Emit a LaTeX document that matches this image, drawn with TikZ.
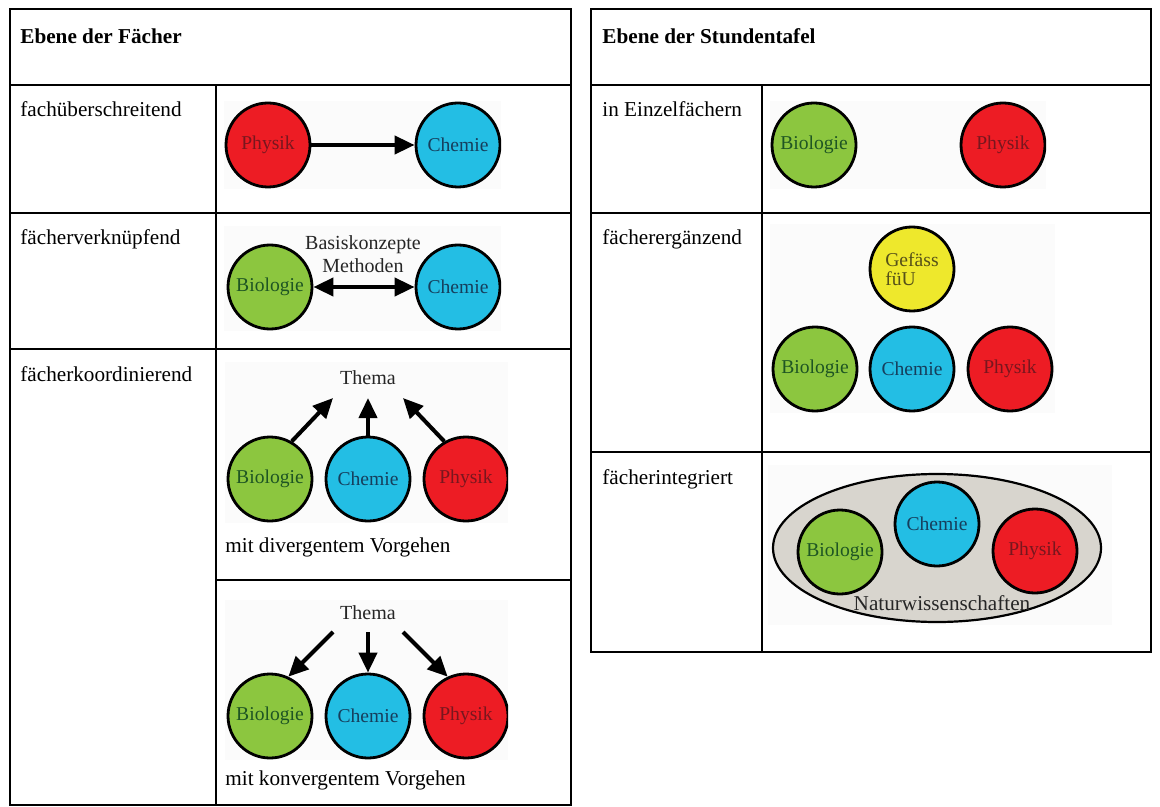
\documentclass[tikz,border=0pt]{standalone}
\usepackage{fontspec}
\setmainfont{Liberation Serif}
\usetikzlibrary{positioning,arrows.meta,shapes.geometric}
\definecolor{rot}{RGB}{237,28,36}
\definecolor{rottext}{RGB}{120,22,30}
\definecolor{blau}{RGB}{35,190,228}
\definecolor{blautext}{RGB}{22,62,92}
\definecolor{gruen}{RGB}{140,198,63}
\definecolor{gruentext}{RGB}{30,85,35}
\definecolor{gelb}{RGB}{238,232,44}
\definecolor{gelbtext}{RGB}{85,80,25}
\definecolor{grau}{RGB}{216,213,206}
\begin{document}
\begin{tikzpicture}[x=0.5pt, y=-0.5pt, node distance=49pt, auto,
    rahmen/.style={line width=1.25pt},
    zelle/.style={anchor=base west, inner sep=0pt, font=\fontsize{10.6}{12.7}\selectfont},
    kopf/.style={zelle, font=\fontsize{10.6}{12.7}\selectfont\bfseries},
    beschr/.style={inner sep=0pt, align=center, text=black!85, font=\fontsize{10}{11.5}\selectfont},
    bild/.style={fill=black!1.5},
    kreis/.style={draw, circle, line width=1.4pt, minimum size=42pt, inner sep=0pt, font=\fontsize{9.8}{11}\selectfont},
    phys/.style={kreis, fill=rot, text=rottext},
    chem/.style={kreis, fill=blau, text=blautext},
    bio/.style={kreis, fill=gruen, text=gruentext},
    pfeil/.style={line width=2pt, -{Triangle[length=10pt, width=9pt]}},
    dpfeil/.style={line width=2pt, {Triangle[length=10pt, width=9pt]}-{Triangle[length=10pt, width=9pt]}}]
    \fill[white] (0,0) rectangle (1160,807);
    \useasboundingbox (0,0) rectangle (1160,807);

    % Ebene der Faecher
    \draw[rahmen] (10,9) rectangle (571,805);
    \draw[rahmen] (10,85) -- (571,85);
    \draw[rahmen] (10,213) -- (571,213);
    \draw[rahmen] (10,349) -- (571,349);
    \draw[rahmen] (216,580) -- (571,580);
    \draw[rahmen] (216,85) -- (216,805);
    \node[kopf] (kl) at (20,44) {Ebene der Fächer};
    \node[zelle] (l1) at (20,117) {fachüberschreitend};
    \node[zelle] (l2) at (20,245) {fächerverknüpfend};
    \node[zelle] (l3) at (20,381) {fächerkoordinierend};

    \begin{scope}
        \clip (224,101) rectangle (501,189);
        \fill[bild] (224,101) rectangle (501,189);
        \node[phys] (p1) at (268,145) {Physik};
        \node[chem, right of=p1, node distance=95pt] (c1) {Chemie};
        \draw[pfeil] (p1) -- (c1);
    \end{scope}

    \begin{scope}
        \clip (224,226) rectangle (501,331);
        \fill[bild] (224,226) rectangle (501,331);
        \node[bio] (b2) at (270,287) {Biologie};
        \node[chem, right of=b2, node distance=94pt] (c2) {Chemie};
        \draw[dpfeil] (b2) -- (c2);
        \node[beschr] (k2) at (363,254) {Basiskonzepte\\Methoden};
    \end{scope}

    % divergent: arrows towards the topic
    \begin{scope}
        \clip (225,362) rectangle (508,523);
        \fill[bild] (225,362) rectangle (508,523);
        \node[beschr] (t3) at (368,378) {Thema};
        \node[bio] (b3) at (270,479) {Biologie};
        \node[chem, right of=b3] (c3) {Chemie};
        \node[phys, right of=c3] (p3) {Physik};
        \coordinate (t3a) at (333,398);
        \coordinate (t3b) at (368,398);
        \coordinate (t3c) at (403,398);
        \draw[pfeil] (b3.60) -- (t3a);
        \draw[pfeil] (c3) -- (t3b);
        \draw[pfeil] (p3.120) -- (t3c);
    \end{scope}
    \node[zelle] (v3) at (225,552) {mit divergentem Vorgehen};

    % konvergent: arrows from the topic
    \begin{scope}
        \clip (225,600) rectangle (508,760);
        \fill[bild] (225,600) rectangle (508,760);
        \node[beschr] (t4) at (368,613) {Thema};
        \node[bio] (b4) at (270,716) {Biologie};
        \node[chem, right of=b4] (c4) {Chemie};
        \node[phys, right of=c4] (p4) {Physik};
        \coordinate (t4a) at (333,632);
        \coordinate (t4b) at (368,632);
        \coordinate (t4c) at (403,632);
        \draw[pfeil] (t4a) -- (b4.65);
        \draw[pfeil] (t4b) -- (c4);
        \draw[pfeil] (t4c) -- (p4.115);
    \end{scope}
    \node[zelle] (v4) at (225,785) {mit konvergentem Vorgehen};

    % Ebene der Stundentafel
    \draw[rahmen] (591,9) rectangle (1151,652);
    \draw[rahmen] (591,85) -- (1151,85);
    \draw[rahmen] (591,213) -- (1151,213);
    \draw[rahmen] (591,452) -- (1151,452);
    \draw[rahmen] (762,85) -- (762,652);
    \node[kopf] (kr) at (602,44) {Ebene der Stundentafel};
    \node[zelle] (r1) at (602,117) {in Einzelfächern};
    \node[zelle] (r2) at (602,245) {fächerergänzend};
    \node[zelle] (r3) at (602,484) {fächerintegriert};

    \begin{scope}
        \clip (770,101) rectangle (1046,189);
        \fill[bild] (770,101) rectangle (1046,189);
        \node[bio] (b5) at (814,145) {Biologie};
        \node[phys, right of=b5, node distance=94.5pt] (p5) {Physik};
    \end{scope}

    \begin{scope}
        \clip (770,224) rectangle (1055,413);
        \fill[bild] (770,224) rectangle (1055,413);
        \node[bio] (b6) at (815,369) {Biologie};
        \node[chem, right of=b6, node distance=48.5pt] (c6) {Chemie};
        \node[phys, right of=c6] (p6) {Physik};
        \node[kreis, fill=gelb, text=gelbtext, above of=c6, node distance=50pt,
            align=left, font=\fontsize{9.8}{9.5}\selectfont] (g6) {Gefäss\\füU};
    \end{scope}

    \fill[bild] (768,465) rectangle (1112,625);
    \node[draw, ellipse, fill=grau, line width=1.1pt, minimum width=164pt,
        minimum height=74pt] (nw) at (937,548) {};
    \node[bio] (b7) at (840,552) {Biologie};
    \node[chem] (c7) at (937,524) {Chemie};
    \node[phys] (p7) at (1035,551) {Physik};
    \node[beschr, font=\fontsize{10.6}{12}\selectfont] (n7) at (942,603) {Naturwissenschaften};
\end{tikzpicture}
\end{document}
